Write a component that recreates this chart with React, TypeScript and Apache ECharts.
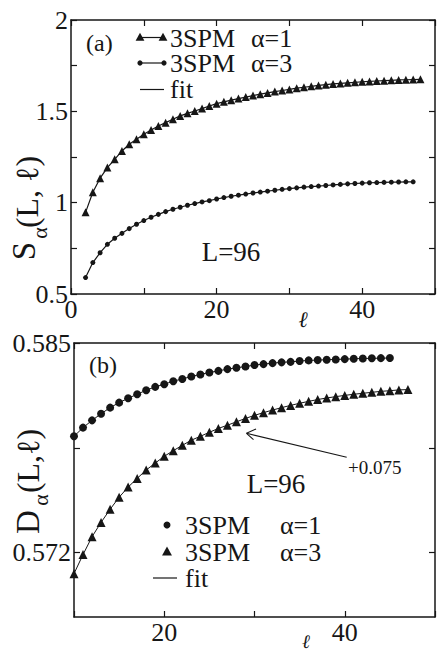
import React, { useEffect, useRef } from "react";
import * as echarts from "echarts";

// ---- data ----
const topTriX = Array.from({ length: 47 }, (_, i) => i + 2); // ℓ = 2..48
const topTriY = [
  0.947, 1.057, 1.134, 1.192, 1.237, 1.283, 1.32, 1.347, 1.374, 1.398,
  1.42, 1.438, 1.457, 1.475, 1.489, 1.502, 1.515, 1.529, 1.542, 1.552,
  1.561, 1.57, 1.578, 1.586, 1.594, 1.601, 1.608, 1.614, 1.62, 1.627,
  1.632, 1.637, 1.642, 1.646, 1.65, 1.653, 1.656, 1.659, 1.662, 1.664,
  1.666, 1.668, 1.67, 1.672, 1.673, 1.674, 1.675,
];
const topCircX = Array.from({ length: 46 }, (_, i) => i + 2); // ℓ = 2..47
const topCircY = [
  0.59, 0.672, 0.726, 0.772, 0.805, 0.832, 0.858, 0.882, 0.902, 0.92,
  0.936, 0.951, 0.964, 0.975, 0.986, 0.995, 1.004, 1.011, 1.02, 1.028,
  1.035, 1.041, 1.047, 1.053, 1.058, 1.063, 1.068, 1.073, 1.077, 1.081,
  1.085, 1.088, 1.091, 1.094, 1.097, 1.1, 1.103, 1.105, 1.107, 1.109,
  1.11, 1.111, 1.112, 1.113, 1.114, 1.114,
];
const botCircX = Array.from({ length: 36 }, (_, i) => i + 10); // ℓ = 10..45
const botCircY = [
  0.57921, 0.57975, 0.5802, 0.58061, 0.58099, 0.5813, 0.58157, 0.58182, 0.58207, 0.58228,
  0.58244, 0.58263, 0.58277, 0.58292, 0.58305, 0.58317, 0.58327, 0.58338, 0.58346, 0.58354,
  0.58363, 0.58369, 0.58375, 0.5838, 0.58383, 0.58388, 0.58392, 0.58394, 0.58396, 0.58398,
  0.584, 0.58402, 0.58404, 0.58405, 0.58406, 0.58407,
];
const botTriX = Array.from({ length: 38 }, (_, i) => i + 10); // ℓ = 10..47
const botTriY = [
  0.57069, 0.57187, 0.57298, 0.57387, 0.57468, 0.57543, 0.57606, 0.5766, 0.57712, 0.57755,
  0.57797, 0.57832, 0.57865, 0.57897, 0.57921, 0.57946, 0.5797, 0.5799, 0.58011, 0.58032,
  0.58051, 0.58068, 0.58084, 0.58099, 0.58113, 0.58126, 0.58138, 0.58149, 0.58159, 0.58167,
  0.58175, 0.58182, 0.58188, 0.58194, 0.582, 0.58204, 0.58209, 0.58211,
];
const topYLabels = [0.5, 1, 1.5, 2];
const botYLabels = [0.572, 0.585];
const botYTicks = [0.572, 0.5785, 0.585];
const topXLabels = [0, 20, 40];
const botXLabels = [20, 40];

const FONT = "Liberation Serif";
const INK = "#161616";

const pairs = (xs: number[], ys: number[]) => xs.map((x, i) => [x, ys[i]]);

function xAx(gridIndex: number, min: number, pos: "top" | "bottom", labels: number[]) {
  return {
    type: "value",
    gridIndex,
    min,
    max: 50,
    interval: 10,
    position: pos,
    axisLine: { show: true, onZero: false, lineStyle: { color: INK, width: 1.5 } },
    axisTick: { show: true, inside: true, length: 6, lineStyle: { color: INK, width: 1.2 } },
    axisLabel: {
      show: pos === "bottom",
      margin: 2,
      fontFamily: FONT,
      fontSize: 26,
      color: INK,
      formatter: (v: number) => (labels.includes(v) ? String(v) : ""),
    },
    splitLine: { show: false },
  };
}

function yAx(gridIndex: number, min: number, max: number, pos: "left" | "right", labels: number[], ticks?: number[]) {
  const ax: any = {
    type: "value",
    gridIndex,
    min,
    max,
    position: pos,
    axisLine: { show: true, onZero: false, lineStyle: { color: INK, width: 1.5 } },
    axisTick: { show: true, inside: true, length: 6, lineStyle: { color: INK, width: 1.2 } },
    axisLabel: {
      show: pos === "left",
      margin: 3,
      fontFamily: FONT,
      fontSize: 26,
      color: INK,
    },
    splitLine: { show: false },
  };
  if (ticks) {
    ax.axisTick.customValues = ticks;
    ax.axisLabel.customValues = labels;
  } else {
    ax.interval = 0.25;
    ax.axisLabel.formatter = (v: number) =>
      labels.some((l) => Math.abs(l - v) < 1e-9) ? String(v) : "";
  }
  return ax;
}

const txt = (x: number, y: number, text: string, fontSize: number, extra: any = {}) => ({
  type: "text",
  x,
  y,
  silent: true,
  ...extra,
  style: {
    text,
    fontFamily: FONT,
    fontSize,
    lineHeight: Math.round(fontSize * 0.85),
    fill: INK,
    align: "left",
    verticalAlign: "middle",
    ...(extra.style || {}),
  },
});

const tri = (x: number, y: number, s: number) => ({
  type: "polygon",
  silent: true,
  shape: { points: [[x, y - s * 0.6], [x - s * 0.55, y + s * 0.4], [x + s * 0.55, y + s * 0.4]] },
  style: { fill: INK },
});
const dot = (x: number, y: number, r: number) => ({
  type: "circle",
  silent: true,
  shape: { cx: x, cy: y, r },
  style: { fill: INK },
});
const seg = (x1: number, y1: number, x2: number, y2: number, w = 1.2) => ({
  type: "line",
  silent: true,
  shape: { x1, y1, x2, y2 },
  style: { stroke: INK, lineWidth: w },
});

export default function App() {
  const ref = useRef<HTMLDivElement>(null);
  useEffect(() => {
    if (!ref.current) return;
    const chart = echarts.init(ref.current, null, { renderer: "svg" });
    const R = Math.PI / 2;
    const option: any = {
      animation: false,
      backgroundColor: "#ffffff",
      textStyle: { fontFamily: FONT },
      grid: [
        { left: 71, top: 20, width: 366, height: 274 },
        { left: 74, top: 343, width: 363, height: 274 },
      ],
      xAxis: [
        xAx(0, 0, "bottom", topXLabels),
        xAx(0, 0, "top", []),
        xAx(1, 10, "bottom", botXLabels),
        xAx(1, 10, "top", []),
      ],
      yAxis: [
        yAx(0, 0.5, 2, "left", topYLabels),
        yAx(0, 0.5, 2, "right", topYLabels),
        yAx(1, 0.568, 0.585, "left", botYLabels, botYTicks),
        yAx(1, 0.568, 0.585, "right", botYLabels, botYTicks),
      ],
      series: [
        {
          type: "line",
          name: "3SPM α=1 (a)",
          xAxisIndex: 0,
          yAxisIndex: 0,
          data: pairs(topTriX, topTriY),
          symbol: "triangle",
          symbolSize: 8,
          itemStyle: { color: INK },
          lineStyle: { color: INK, width: 1.2 },
        },
        {
          type: "line",
          name: "3SPM α=3 (a)",
          xAxisIndex: 0,
          yAxisIndex: 0,
          data: pairs(topCircX, topCircY),
          symbol: "circle",
          symbolSize: 5,
          itemStyle: { color: INK },
          lineStyle: { color: INK, width: 1.2 },
        },
        {
          type: "line",
          name: "3SPM α=1 (b)",
          xAxisIndex: 2,
          yAxisIndex: 2,
          data: pairs(botCircX, botCircY),
          symbol: "circle",
          symbolSize: 8,
          itemStyle: { color: INK },
          lineStyle: { color: INK, width: 1 },
        },
        {
          type: "line",
          name: "3SPM α=3 (b)",
          xAxisIndex: 2,
          yAxisIndex: 2,
          data: pairs(botTriX, botTriY),
          symbol: "triangle",
          symbolSize: 9,
          itemStyle: { color: INK },
          lineStyle: { color: INK, width: 1 },
        },
      ],
      graphic: [
        // panel (a) y-axis name
        txt(24, 251, "S", 33, { rotation: R, style: { align: "center" } }),
        txt(39, 233, "α", 22, { rotation: R, style: { align: "center" } }),
        txt(27, 192, "(L, ℓ)", 32, { rotation: R, style: { align: "center" } }),
        // panel (a) x-axis name
        txt(303, 319, "ℓ", 22, { style: { align: "center", fontStyle: "italic" } }),
        // panel (a) legend
        txt(86, 42.5, "(a)", 24),
        seg(140, 37.5, 163, 37.5),
        tri(140, 37.5, 8),
        tri(163, 37.5, 8),
        txt(170, 38, "3SPM", 26),
        txt(251, 38, "α=1", 26),
        seg(140, 63, 164, 63),
        dot(140, 63, 2.6),
        dot(164, 63, 2.6),
        txt(170, 63, "3SPM", 26),
        txt(251, 63, "α=3", 26),
        seg(140, 89.5, 164, 89.5),
        txt(170, 89, "fit", 26),
        txt(231, 252, "L=96", 27, { style: { align: "center" } }),
        // panel (b) y-axis name
        txt(28, 522, "D", 33, { rotation: R, style: { align: "center" } }),
        txt(40, 500, "α", 22, { rotation: R, style: { align: "center" } }),
        txt(28, 461, "(L,ℓ)", 32, { rotation: R, style: { align: "center" } }),
        // panel (b) x-axis name
        txt(306, 641, "ℓ", 19, { style: { align: "center", fontStyle: "italic" } }),
        // panel (b) legend
        txt(89, 365, "(b)", 24),
        dot(167, 525, 3.5),
        txt(185, 525, "3SPM", 26),
        txt(280, 525, "α=1", 26),
        tri(167, 552, 9),
        txt(185, 552, "3SPM", 26),
        txt(280, 552, "α=3", 26),
        seg(153, 578, 177, 578),
        txt(185, 578, "fit", 26),
        txt(276, 484, "L=96", 27, { style: { align: "center" } }),
        // arrow annotation
        seg(346.7, 457.3, 246.5, 433.3, 1.1),
        seg(246.5, 433.3, 256, 429, 1.1),
        seg(246.5, 433.3, 253.5, 439.6, 1.1),
        txt(348, 467.5, "+0.075", 19),
      ],
    };
    chart.setOption(option);
    return () => chart.dispose();
  }, []);
  return (
    <div
      ref={ref}
      style={{ position: "absolute", left: 0, top: 0, width: 438, height: 651 }}
    />
  );
}
